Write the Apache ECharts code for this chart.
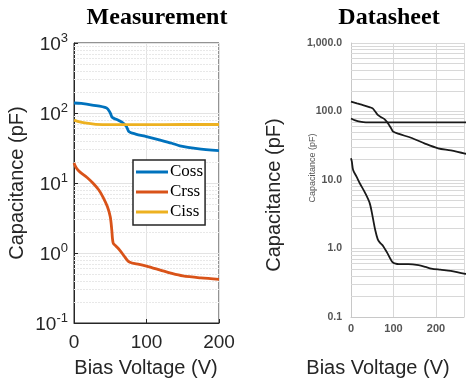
<!DOCTYPE html>
<html><head><meta charset="utf-8">
<script src="https://cdn.jsdelivr.net/npm/echarts@6/dist/echarts.min.js"></script>
<style>html,body{margin:0;padding:0;background:#fff}#c{width:467px;height:381px}</style>
</head><body><div id="c"></div>
<script>
// ---- Data: Measurement panel (V, pF) ----
const measCoss = [[0,139],[10,137],[25,130],[45,118],[50,100],[53,86],[60,80],[66,74],[72,65],[76,54],[85,50],[100,46],[119,41],[135,37],[146,34],[170,31],[200,29]];
const measCrss = [[0,19.3],[3,16.5],[8,14.4],[18,12],[26,10],[34,8],[40,6.3],[46,4.6],[50,3.3],[52,2.2],[54,1.39],[58,1.25],[63,1.1],[70,0.88],[75,0.76],[80,0.72],[90,0.69],[100,0.65],[119,0.57],[135,0.51],[150,0.47],[175,0.44],[200,0.42]];
const measCiss = [[0,79],[5,76],[15,72],[30,69],[50,68],[100,68],[150,68.5],[200,68.5]];
// ---- Data: Datasheet panel ----
const dsCoss = [[0,139],[14,131],[28,124],[45,115],[51,111],[57,100],[63,89],[70,83],[78,78],[85,70],[90,63],[95,56],[99,51],[113,47],[143,41],[174,34],[205,29],[235,27],[266,24.5],[300,22.5]];
const dsCrss = [[0,20.7],[2,18.5],[5,14],[13,11.2],[21,8.9],[32,6.7],[44,4.6],[51,2.9],[57,1.86],[63,1.36],[68,1.22],[74,1.12],[80,0.98],[86,0.85],[92,0.72],[97,0.64],[105,0.60],[113,0.59],[135,0.59],[159,0.57],[175,0.54],[189,0.51],[210,0.49],[235,0.47],[266,0.43],[300,0.41]];
const dsCiss = [[0,79],[10,74],[21,71],[35,69.5],[100,69.5],[200,69.5],[300,69.5]];
// ---- Labels ----
const seriesNames = ['Coss','Crss','Ciss'];
const measYTickExp = {'0.1':'-1','1':'0','10':'1','100':'2','1000':'3'};
const dsYTickLabels = {'0.1':'0.1','1':'1.0','10':'10.0','100':'100.0','1000':'1,000.0'};
const minorVals = [0.2,0.3,0.4,0.5,0.6,0.7,0.8,0.9,2,3,4,5,6,7,8,9,20,30,40,50,60,70,80,90,200,300,400,500,600,700,800,900];
const titles = ['Measurement','Datasheet'];
const yTitle = 'Capacitance (pF)';
const xTitle = 'Bias Voltage (V)';

const colors = ['#0072BD','#D95319','#EDB120'];
const chart = echarts.init(document.getElementById('c'));

function gridLineSeries(xi, yi, vals, style){
  return {type:'line', xAxisIndex:xi, yAxisIndex:yi, data:[], silent:true, z:1,
    markLine:{silent:true, z:1, symbol:['none','none'], label:{show:false}, animation:false,
      lineStyle:style, data: vals.map(v=>({yAxis:v}))}};
}
const txt = (s, x, y, size, extra) => Object.assign({type:'text', x:x, y:y, z:20,
  style:{text:s, fontFamily:'Liberation Sans', fontSize:size, fill:'#262626', textAlign:'center', textVerticalAlign:'middle'}}, extra||{});

const option = {
  animation:false,
  legend:{
    data:seriesNames, orient:'vertical', left:133, top:160, icon:'rect', itemWidth:32, itemHeight:3,
    itemGap:2, padding:[3,2,4,3], borderColor:'#262626', borderWidth:1.5, backgroundColor:'#fff',
    textStyle:{fontFamily:'Liberation Serif', fontSize:17, color:'#000', lineHeight:18, padding:[0,0,0,-3]}
  },
  grid:[
    {left:74, top:43, width:145, height:280, show:true, borderColor:'#262626', borderWidth:1, backgroundColor:'transparent'},
    {left:351, top:43, right:0, height:274}
  ],
  xAxis:[
    {gridIndex:0, type:'value', min:0, max:200, interval:100,
      axisLine:{show:true, lineStyle:{color:'#262626'}},
      axisTick:{show:true, inside:true, length:4, lineStyle:{color:'#262626'}},
      axisLabel:{fontFamily:'Liberation Sans', fontSize:19, color:'#262626', margin:10},
      splitLine:{show:true, lineStyle:{color:'#e3e3e3', width:1}}},
    {gridIndex:1, type:'value', min:0, max:266, interval:100,
      axisLine:{show:true, lineStyle:{color:'#c8c8c8'}},
      axisTick:{show:false},
      axisLabel:{fontFamily:'Liberation Sans', fontSize:11, fontWeight:'bold', color:'#555', margin:6,
        formatter:(v)=> (v % 100 === 0 ? String(v) : '')},
      splitLine:{show:true, lineStyle:{color:'#d8d8d8', width:1}}}
  ],
  yAxis:[
    {gridIndex:0, type:'log', logBase:10, min:0.1, max:1000,
      axisLine:{show:true, lineStyle:{color:'#262626'}},
      axisTick:{show:true, inside:true, length:4, lineStyle:{color:'#262626'}},
      axisLabel:{margin:6, formatter:(v)=>'{b|10}{s|'+measYTickExp[String(+v.toPrecision(3))]+'}',
        rich:{b:{fontFamily:'Liberation Sans', fontSize:19, color:'#262626', lineHeight:22, verticalAlign:'bottom'},
              s:{fontFamily:'Liberation Sans', fontSize:13, color:'#262626', lineHeight:13, verticalAlign:'top'}}},
      splitLine:{show:true, lineStyle:{color:'#e3e3e3', width:1}}},
    {gridIndex:1, type:'log', logBase:10, min:0.1, max:1000,
      axisLine:{show:true, lineStyle:{color:'#c8c8c8'}},
      axisTick:{show:false},
      axisLabel:{margin:9, fontFamily:'Liberation Sans', fontSize:10.5, fontWeight:'bold', color:'#555',
        formatter:(v)=>dsYTickLabels[String(+v.toPrecision(3))]},
      splitLine:{show:true, lineStyle:{color:'#d8d8d8', width:1}}}
  ],
  graphic:[
    txt(titles[0], 157, 18, 24, {style:{text:titles[0], fontFamily:'Liberation Serif', fontWeight:'bold', fontSize:24, fill:'#000', textAlign:'center', textVerticalAlign:'middle'}}),
    txt(titles[1], 389, 18, 24, {style:{text:titles[1], fontFamily:'Liberation Serif', fontWeight:'bold', fontSize:24, fill:'#000', textAlign:'center', textVerticalAlign:'middle'}}),
    txt(yTitle, 17, 183, 20, {rotation:Math.PI/2}),
    txt(xTitle, 146, 368, 20),
    txt(yTitle, 274, 195, 20, {rotation:Math.PI/2}),
    txt(xTitle, 378, 368, 20),
    txt(yTitle, 313, 168, 9, {rotation:Math.PI/2, style:{text:yTitle, fontFamily:'Liberation Sans', fontSize:9, fill:'#555', textAlign:'center', textVerticalAlign:'middle'}})
  ],
  series:[
    gridLineSeries(0,0,minorVals,{color:'#e8e8e8', width:1, type:[2,1]}),
    gridLineSeries(1,1,minorVals,{color:'#d8d8d8', width:1, type:'solid'}),
    {name:'Coss', type:'line', xAxisIndex:0, yAxisIndex:0, data:measCoss, showSymbol:false, smooth:0.3, z:10, color:colors[0], lineStyle:{width:2.8, color:colors[0]}},
    {name:'Crss', type:'line', xAxisIndex:0, yAxisIndex:0, data:measCrss, showSymbol:false, smooth:0.3, z:10, color:colors[1], lineStyle:{width:2.8, color:colors[1]}},
    {name:'Ciss', type:'line', xAxisIndex:0, yAxisIndex:0, data:measCiss, showSymbol:false, smooth:0.3, z:10, color:colors[2], lineStyle:{width:2.8, color:colors[2]}},
    {name:'dsCoss', type:'line', xAxisIndex:1, yAxisIndex:1, data:dsCoss, showSymbol:false, smooth:0.3, z:10, lineStyle:{width:1.8, color:'#1a1a1a'}},
    {name:'dsCrss', type:'line', xAxisIndex:1, yAxisIndex:1, data:dsCrss, showSymbol:false, smooth:0.3, z:10, lineStyle:{width:1.8, color:'#1a1a1a'}},
    {name:'dsCiss', type:'line', xAxisIndex:1, yAxisIndex:1, data:dsCiss, showSymbol:false, smooth:0.3, z:10, lineStyle:{width:1.8, color:'#1a1a1a'}}
  ]
};
chart.setOption(option);
</script></body></html>
